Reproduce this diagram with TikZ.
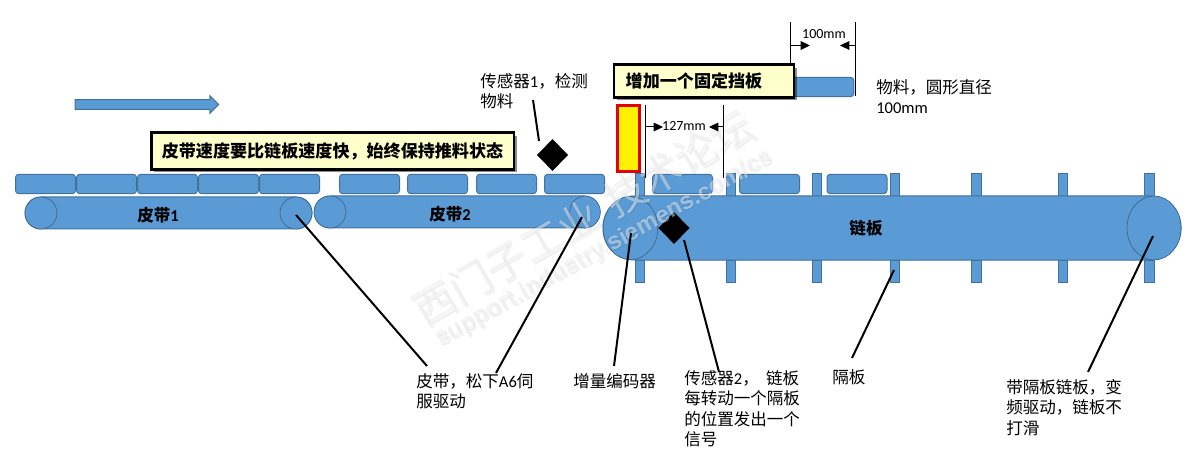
\documentclass[tikz,border=0pt]{standalone}
\usepackage{fontspec}
\setmainfont{Carlito}
\newfontfamily\cj{Noto Sans CJK SC}
\newfontfamily\wm{Liberation Sans}
\newcommand{\C}[1]{{\cj #1}}
\usetikzlibrary{shapes.geometric,shapes.arrows,arrows.meta,shadows}
\definecolor{bl}{HTML}{5B9BD5}
\definecolor{bd}{HTML}{41719C}
\definecolor{cream}{HTML}{FFFFCC}
\tikzset{
  plate/.style={draw=bd,fill=bl,line width=.75pt,rounded corners=2.5pt,minimum width=45pt,minimum height=14.6pt,inner sep=0pt},
  cleat/.style={draw=bd,fill=bl,line width=.75pt,minimum width=6.8pt,inner sep=0pt},
  belt/.style={draw=bd,fill=bl,line width=.75pt,rounded corners=11.9pt,minimum height=24pt,inner sep=0pt},
  roller/.style={ellipse,draw=bd!90!black,fill=bl,line width=.5pt,inner sep=0pt},
  leader/.style={draw=black,line width=1.5pt},
  dimline/.style={draw=black,line width=.75pt},
  dimarrow/.style={draw=black,line width=.75pt,-{Triangle[length=7pt,width=6.5pt]}},
  label/.style={anchor=north west,inner sep=0pt,align=left,font=\fontsize{12.4}{15.4}\selectfont},
  callout/.style={draw=black,line width=2pt,fill=cream,inner sep=0pt,font=\fontsize{12.8}{15}\selectfont\bfseries,
    drop shadow={shadow xshift=2.2pt,shadow yshift=-2.2pt,fill=black,opacity=.45}},
  bold/.style={inner sep=0pt,font=\fontsize{12.4}{15}\selectfont\bfseries},
  dia/.style={diamond,fill=black,inner sep=0pt,minimum width=23.5pt,minimum height=24pt}
}
\begin{document}
\begin{tikzpicture}[x=.75pt,y=-.75pt]
\useasboundingbox (0,0) rectangle (1191,463);
% direction arrow
\node[single arrow,draw=bd,fill=bl,line width=.75pt,minimum height=107.5pt,inner sep=3.2pt,single arrow head extend=3pt] (dir) at (144.5,104.5) {};
% cleats
\foreach \x/\n in {640/a,731/b,817/c,895/d,976.5/e,1063/f,1149.5/g}{
  \node[cleat,minimum height=17pt] (ct\n) at (\x,185) {};
  \node[cleat,minimum height=17pt] (cb\n) at (\x,271.5) {};
}
% chain
\node[belt,rounded corners=23.5pt,minimum width=433.5pt,minimum height=48pt] (chain) at (892,228) {};
\node[roller,minimum width=41pt,minimum height=47.5pt] (rc1) at (630.5,228) {};
\node[roller,minimum width=40.5pt,minimum height=48pt] (rc2) at (1154,228) {};
\node[bold] (chaintxt) at (866,228) {\C{链板}};
% belts
\node[belt,minimum width=215.2pt] (belt1) at (168.5,213) {};
\node[roller,minimum width=24pt,minimum height=24pt] (r11) at (41,213) {};
\node[roller,minimum width=24pt,minimum height=24pt] (r12) at (296,213) {};
\node[bold] (b1txt) at (158,215) {\C{皮带}1};
\node[belt,minimum width=214pt] (belt2) at (457,212) {};
\node[roller,minimum width=24pt,minimum height=24pt] (r21) at (330,212) {};
\node[roller,minimum width=23pt,minimum height=24pt] (r22) at (585,212) {};
\node[bold] (b2txt) at (450,214) {\C{皮带}2};
% plates
\foreach \x/\n in {45.5/1,106.5/2,167.5/3,228.5/4,289.5/5,369.5/6,437.5/7,506.5/8,574.5/9,682.5/10,769.5/11,857/12}{
  \node[plate] (p\n) at (\x,184) {};
}
% material
\node[plate,minimum width=48.5pt] (mat) at (821.5,87) {};
% sensors
\node[dia] (s1) at (552.5,155) {};
\node[dia] (s2) at (674,228) {};
% fixed stop
\node[draw=red!90!black,line width=2.3pt,fill=yellow,minimum width=16.5pt,minimum height=49.5pt,inner sep=0pt] (stop) at (628.5,138.5) {};
% watermark
\foreach \dx/\dy/\c/\o/\k in {.9/.9/black/.07/a,-.9/-.9/black/.05/b,0/0/white/.45/c}{
  \node[rotate=30,inner sep=0pt,text=\c,text opacity=\o,font=\fontsize{31}{33}\selectfont\cj] (wma\k) at (584+\dx,218+\dy) {西门子工业\hspace{.3em}技术论坛};
  \node[rotate=29,inner sep=0pt,text=\c,text opacity=\o,font=\fontsize{18}{21}\selectfont\wm\bfseries] (wmb\k) at (605+\dx,249+\dy) {support.industry.siemens.com/cs};
}
% callouts
\node[callout,minimum width=272pt,minimum height=27.5pt] (co1) at (332.5,151) {\C{皮带速度要比链板速度快，始终保持推料状态}};
\node[callout,minimum width=135pt,minimum height=24.5pt] (co2) at (704,81) {\C{增加一个固定挡板}\hspace*{15pt}};
% dimensions
\coordinate (d1t) at (790,22); \coordinate (d1b) at (790,64);
\coordinate (d2t) at (855,22); \coordinate (d2b) at (855,96);
\draw[dimline] (d1t) -- (d1b);
\draw[dimline] (d2t) -- (d2b);
\coordinate (a1s) at (790,45.5); \coordinate (a1e) at (810,45.5);
\coordinate (a2s) at (855,45.5); \coordinate (a2e) at (840,45.5);
\draw[dimarrow] (a1s) -- (a1e);
\draw[dimarrow] (a2s) -- (a2e);
\node[inner sep=0pt,font=\fontsize{10.5}{12}\selectfont] (t100) at (824,34) {100mm};
\coordinate (d3t) at (645.5,105); \coordinate (d3b) at (645.5,178);
\coordinate (d4t) at (723.5,105); \coordinate (d4b) at (723.5,178);
\draw[dimline] (d3t) -- (d3b);
\draw[dimline] (d4t) -- (d4b);
\coordinate (a3s) at (645.5,127); \coordinate (a3e) at (663,127);
\coordinate (a4s) at (723.5,127); \coordinate (a4e) at (709,127);
\draw[dimarrow] (a3s) -- (a3e);
\draw[dimarrow] (a4s) -- (a4e);
\node[inner sep=0pt,font=\fontsize{10.5}{12}\selectfont] (t127) at (684,126) {127mm};
% labels
\node[label] (l1) at (480,73) {\C{传感器}1\C{，检测}\\\C{物料}};
\node[label] (l2) at (876,79) {\C{物料，圆形直径}\\100mm};
\node[label] (l3) at (416,373) {\C{皮带，松下}A6\C{伺}\\\C{服驱动}};
\node[label] (l4) at (573,373) {\C{增量编码器}};
\node[label] (l5) at (684,370) {\C{传感器}2\C{，\ \ 链板}\\\C{每转动一个隔板}\\\C{的位置发出一个}\\\C{信号}};
\node[label] (l6) at (832,369) {\C{隔板}};
\node[label] (l7) at (1006,379) {\C{带隔板链板，变}\\\C{频驱动，链板不}\\\C{打滑}};
% leaders
\coordinate (e1) at (533,100); \coordinate (f1) at (539,141);
\coordinate (e2) at (296,215); \coordinate (f2) at (427,366);
\coordinate (e3) at (582,217); \coordinate (f3) at (496,373);
\coordinate (e4) at (631,233); \coordinate (f4) at (614,366);
\coordinate (e5) at (684,240); \coordinate (f5) at (719,372);
\coordinate (e6) at (894,270); \coordinate (f6) at (852,358);
\coordinate (e7) at (1153,236); \coordinate (f7) at (1088,372);
\foreach \n in {1,...,7}{\draw[leader] (e\n) -- (f\n);}
\end{tikzpicture}
\end{document}
